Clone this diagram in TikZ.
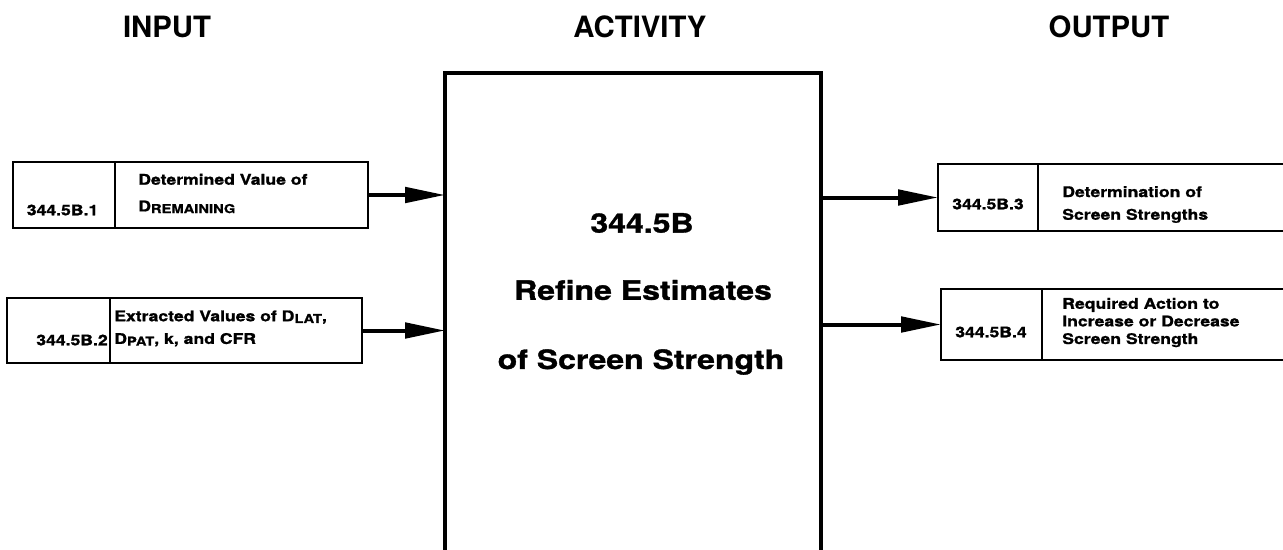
\documentclass[tikz,border=0pt]{standalone}
\usepackage{fontspec}
\setmainfont{TeX Gyre Heros}
\newfontfamily\widefont{TeX Gyre Heros}[FakeStretch=1.2, FakeBold=1.2]
\usetikzlibrary{arrows.meta}
\newcommand{\sbs}[1]{\raisebox{-1.3pt}{\fontsize{9.2}{9}\selectfont #1}}
\tikzset{
  cell/.style={draw, line width=1.8pt, rectangle, inner sep=0pt, outer sep=0pt},
  acttext/.style={font=\widefont\bfseries\fontsize{20}{24}\selectfont, inner sep=0pt},
  smalltext/.style={font=\widefont\bfseries\fontsize{11}{13}\selectfont, inner sep=0pt},
  title/.style={font=\bfseries\fontsize{22}{26}\selectfont, inner sep=0pt},
  arr/.style={line width=3pt, -{Triangle[length=30pt, width=11.5pt]}}
}
\begin{document}
\begin{tikzpicture}[x=0.75pt, y=-0.75pt]
\useasboundingbox (0,0) rectangle (1283,550);
\clip (0,0) rectangle (1283,550);

% titles
\node[title] (tin) at (167,27) {INPUT};
\node[title] (tact) at (640,27) {ACTIVITY};
\node[title] (tout) at (1109,27) {OUTPUT};

% activity box
\node[draw, line width=2.3pt, minimum width=282pt, minimum height=370pt, inner sep=0pt, outer sep=0pt, anchor=north west] (act) at (445,73) {};
\node[acttext] (actA) at (642,223) {344.5B};
\node[acttext] (actB) at (643,290) {Refine Estimates};
\node[acttext] (actC) at (641,362) {of Screen Strength};

% input 1
\node[cell, minimum width=76.5pt, minimum height=49.5pt] (n1) at (64,195) {};
\node[cell, minimum width=189.75pt, minimum height=49.5pt, anchor=west] (t1) at (n1.east) {};
\node[smalltext] (n1l) at (62.5,210) {344.5B.1};
\node[smalltext, anchor=west, align=left, font=\widefont\bfseries\fontsize{11}{20}\selectfont] (t1l) at (138,193.5) {Determined Value of\\D\sbs{REMAINING}};

% input 2
\node[cell, minimum width=77.25pt, minimum height=48.75pt] (n2) at (58.5,330.5) {};
\node[cell, minimum width=189pt, minimum height=48.75pt, anchor=west] (t2) at (n2.east) {};
\node[smalltext, anchor=east] (n2l) at (108,340) {344.5B.2};
\node[smalltext, anchor=west, align=left, font=\widefont\bfseries\fontsize{11}{17}\selectfont] (t2l) at (114,328.5) {Extracted Values of D\sbs{LAT},\\D\sbs{PAT}, k, and CFR};

% output 3
\node[cell, minimum width=75pt, minimum height=50.25pt] (n3) at (988,197.5) {};
\node[cell, minimum width=200pt, minimum height=50.25pt, anchor=west] (t3) at (n3.east) {};
\node[smalltext] (n3l) at (988,204) {344.5B.3};
\node[smalltext, anchor=west, align=left, font=\widefont\bfseries\fontsize{11}{17}\selectfont] (t3l) at (1062,204.5) {Determination of\\Screen Strengths};

% output 4
\node[cell, minimum width=75.75pt, minimum height=53.25pt] (n4) at (991.5,324.5) {};
\node[cell, minimum width=200pt, minimum height=53.25pt, anchor=west] (t4) at (n4.east) {};
\node[smalltext] (n4l) at (991,332) {344.5B.4};
\node[smalltext, anchor=west, align=left, font=\widefont\bfseries\fontsize{11}{13.2}\selectfont] (t4l) at (1062,322.5) {Required Action to\\Increase or Decrease\\Screen Strength};

% arrows
\draw[arr] (t1.east) -- (t1.east -| act.west);
\draw[arr] (t2.east) -- (t2.east -| act.west);
\draw[arr] (act.east |- n3.west) -- (n3.west);
\draw[arr] (act.east |- n4.west) -- (n4.west);
\end{tikzpicture}
\end{document}
